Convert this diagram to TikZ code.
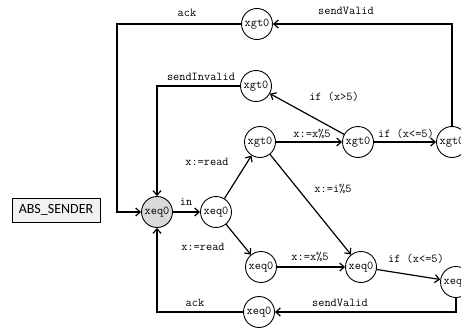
\documentclass[tikz,border=0pt]{standalone}
\usepackage{fontspec}
\newfontfamily\boxfont{Carlito}
\usetikzlibrary{arrows.meta}
\begin{document}
\begin{tikzpicture}[x=1pt,y=-1pt,
  state/.style={circle,draw,line width=0.9pt,minimum size=31pt,inner sep=0pt,
    font=\ttfamily\fontsize{12}{14}\selectfont},
  initial/.style={state,fill=black!15},
  trans/.style={line width=1.2pt,-{Straight Barb[length=4.5pt,width=8pt,line width=1.2pt]}},
  lbl/.style={font=\ttfamily\fontsize{12}{14}\selectfont,inner sep=0pt},
  title/.style={draw,line width=0.8pt,fill=black!5,minimum width=88pt,minimum height=24pt,
    inner sep=0pt,font=\boxfont\fontsize{14}{16}\selectfont}]
\useasboundingbox (0,0) rectangle (461,332);

% process name
\node[title] (name) at (56,210) {ABS\_SENDER};

% states
\node[initial] (s0) at (157,212) {xeq0};
\node[state] (s1) at (216,212) {xeq0};
\node[state] (g1) at (260,142) {xgt0};
\node[state] (g2) at (358,142) {xgt0};
\node[state] (g3) at (452,142) {xgt0};
\node[state] (gi) at (256,86) {xgt0};
\node[state] (gv) at (257,24) {xgt0};
\node[state] (e1) at (261,267) {xeq0};
\node[state] (e2) at (361,267) {xeq0};
\node[state] (e3) at (456,282) {xeq0};
\node[state] (ev) at (259,312) {xeq0};

% corner points of the return loops
\coordinate (ackTop) at (117,24);
\coordinate (ackTopDown) at (117,212);
\coordinate (invCorner) at (157,86);
\coordinate (ackBot) at (157,312);

% transitions
\draw[trans] (s0) -- (s1);
\draw[trans] (s1) -- (g1);
\draw[trans] (s1) -- (e1);
\draw[trans] (g1) -- (g2);
\draw[trans] (g2) -- (g3);
\draw[trans] (g2) -- (gi);
\draw[trans] (g1) -- (e2);
\draw[trans] (e1) -- (e2);
\draw[trans] (e2) -- (e3);
\draw[trans] (g3.north) |- (gv);
\draw[trans] (gv) -- (ackTop) -- (ackTopDown) -- (s0);
\draw[trans] (gi) -- (invCorner) -- (s0);
\draw[trans] (e3.south) |- (ev);
\draw[trans] (ev) -- (ackBot) -- (s0);

% labels
\node[lbl] (l1) at (187,13) {ack};
\node[lbl] (l2) at (346,11) {sendValid};
\node[lbl] (l3) at (201,77) {sendInvalid};
\node[lbl] (l4) at (334,97) {if (x>5)};
\node[lbl] (l5) at (312,134) {x:=x\%5};
\node[lbl] (l6) at (406,134) {if (x<=5)};
\node[lbl] (l7) at (207,162) {x:=read};
\node[lbl] (l8) at (186,202) {in};
\node[lbl] (l9) at (333,189) {x:=i\%5};
\node[lbl] (l10) at (203,247) {x:=read};
\node[lbl] (l11) at (310,257) {x:=x\%5};
\node[lbl] (l12) at (416,259) {if (x<=5)};
\node[lbl] (l13) at (195,303) {ack};
\node[lbl] (l14) at (340,303) {sendValid};
\end{tikzpicture}
\end{document}
